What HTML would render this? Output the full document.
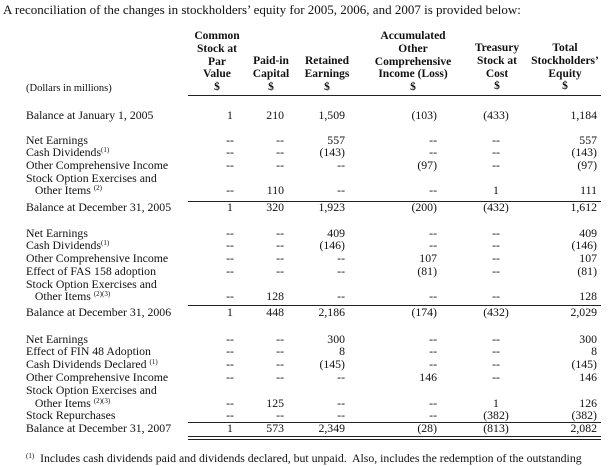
<!DOCTYPE html>
<html><head><meta charset="utf-8"><style>
body{margin:0;background:#fff;width:609px;height:466px;overflow:hidden;position:relative;font-family:"Liberation Serif",serif;color:#111}
.t{position:absolute;white-space:nowrap;font-size:11.8px;line-height:13px}
.h{font-weight:bold;text-align:center;font-size:11.5px;line-height:12.8px}
.r{position:absolute;height:1px;background:#222}
sup{font-size:7px;vertical-align:4px;line-height:0}
</style></head><body>
<div class="t" style="left:3px;top:3px;font-size:13px">A reconciliation of the changes in stockholders’ equity for 2005, 2006, and 2007 is provided below:</div>
<div class="t" style="left:26px;top:82px;font-size:10.5px">(Dollars in millions)</div>
<div class="t h" style="left:187px;width:60px;top:30px">Common<br>Stock at<br>Par<br>Value<br>$</div>
<div class="t h" style="left:246px;width:50px;top:55px">Paid-in<br>Capital<br>$</div>
<div class="t h" style="left:297px;width:60px;top:55px">Retained<br>Earnings<br>$</div>
<div class="t h" style="left:363px;width:100px;top:30px">Accumulated<br>Other<br>Comprehensive<br>Income (Loss)<br>$</div>
<div class="t h" style="left:467px;width:60px;top:42px">Treasury<br>Stock at<br>Cost<br>$</div>
<div class="t h" style="left:528px;width:74px;top:42px">Total<br>Stockholders’<br>Equity<br>$</div>
<div class="r" style="left:188px;width:413px;top:95px"></div>
<div class="r" style="left:188px;width:413px;top:201px"></div>
<div class="r" style="left:188px;width:413px;top:305px"></div>
<div class="r" style="left:188px;width:413px;top:422px"></div>
<div class="r" style="left:188px;width:413px;top:436px"></div>
<div class="r" style="left:188px;width:413px;top:439px"></div>
<div class="t" style="left:26px;top:452px"><sup>(1)</sup>&nbsp; Includes cash dividends paid and dividends declared, but unpaid.&nbsp; Also, includes the redemption of the outstanding</div>
<div id="rows"></div>
<script>
const rowLabels=["Balance at January 1, 2005","Net Earnings","Cash Dividends<sup>(1)</sup>","Other Comprehensive Income","Stock Option Exercises and","&nbsp;&nbsp;&nbsp;Other Items <sup>(2)</sup>","Balance at December 31, 2005","Net Earnings","Cash Dividends<sup>(1)</sup>","Other Comprehensive Income","Effect of FAS 158 adoption","Stock Option Exercises and","&nbsp;&nbsp;&nbsp;Other Items <sup>(2)(3)</sup>","Balance at December 31, 2006","Net Earnings","Effect of FIN 48 Adoption","Cash Dividends Declared <sup>(1)</sup>","Other Comprehensive Income","Stock Option Exercises and","&nbsp;&nbsp;&nbsp;Other Items <sup>(2)(3)</sup>","Stock Repurchases","Balance at December 31, 2007"];
const rowTops=[109,134,146,159,172,184,201,227,239,252,265,278,290,306,333,345,358,371,384,397,409,422];
const commonStock=["1","--","--","--",null,"--","1","--","--","--","--",null,"--","1","--","--","--","--",null,"--","--","1"];
const paidIn=["210","--","--","--",null,"110","320","--","--","--","--",null,"128","448","--","--","--","--",null,"125","--","573"];
const retained=["1,509","557","(143)","--",null,"--","1,923","409","(146)","--","--",null,"--","2,186","300","8","(145)","--",null,"--","--","2,349"];
const aoci=["(103)","--","--","(97)",null,"--","(200)","--","--","107","(81)",null,"--","(174)","--","--","--","146",null,"--","--","(28)"];
const treasury=["(433)","--","--","--",null,"1","(432)","--","--","--","--",null,"--","(432)","--","--","--","--",null,"1","(382)","(813)"];
const total=["1,184","557","(143)","(97)",null,"111","1,612","409","(146)","107","(81)",null,"128","2,029","300","8","(145)","146",null,"126","(382)","2,082"];
const cols=[{d:commonStock,x:230,a:"c",n:"common-stock"},{d:paidIn,x:284,a:"r",n:"paid-in"},{d:retained,x:345,a:"r",n:"retained"},{d:aoci,x:437,a:"r",n:"aoci"},{d:treasury,x:496,a:"c",n:"treasury"},{d:total,x:597,a:"r",n:"total"}];
const host=document.getElementById('rows');
rowLabels.forEach((lab,i)=>{
  const l=document.createElement('div');
  l.className='t';
  
  
  l.style.left='26px';l.style.top=rowTops[i]+'px';
  l.innerHTML=lab;host.appendChild(l);
  cols.forEach(c=>{
    const v=c.d[i]; if(v==null)return;
    const e=document.createElement('div');
    e.className='t';
    
    
    e.textContent=v;
    e.style.top=rowTops[i]+'px';
    if(c.a==='c'){e.style.left=(c.x-40)+'px';e.style.width='80px';e.style.textAlign='center';}
    else{e.style.left=(c.x-80)+'px';e.style.width='80px';e.style.textAlign='right';}
    host.appendChild(e);
  });
});
</script>
</body></html>
